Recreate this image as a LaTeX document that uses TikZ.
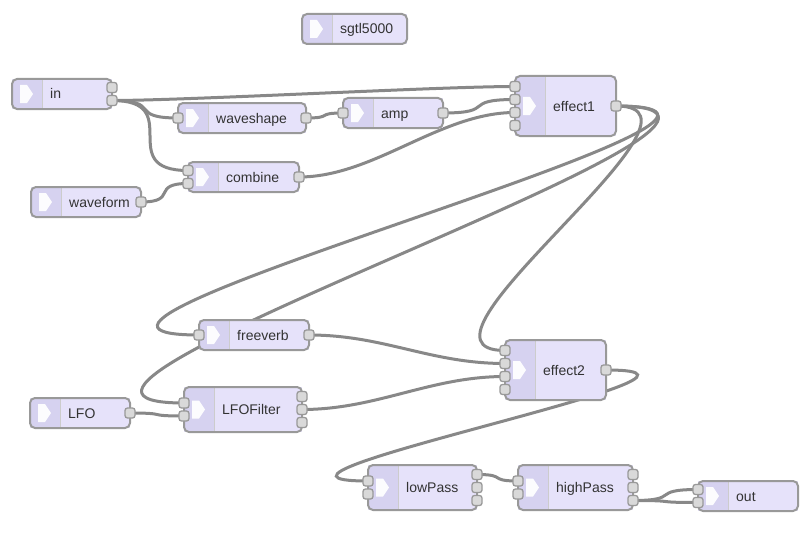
\documentclass[tikz,border=0pt]{standalone}
\usepackage{fontspec}
\setmainfont{Liberation Sans}
\usetikzlibrary{calc}
\definecolor{blockfill}{RGB}{230, 226, 250}
\definecolor{iconfill}{RGB}{214, 210, 240}
\definecolor{blockline}{RGB}{153, 153, 153}
\definecolor{portfill}{RGB}{217, 217, 217}
\definecolor{wiregray}{RGB}{136, 136, 136}
\definecolor{labelgray}{RGB}{51, 51, 51}
\pgfdeclarelayer{paper}
\pgfdeclarelayer{wires}
\pgfsetlayers{paper,wires,main}
\tikzset{
  block/.style={rectangle, fill=blockfill, inner sep=0pt, outer sep=0pt},
  blockedge/.style={draw=blockline, line width=2pt, rounded corners=5pt},
  port/.style={rectangle, rounded corners=2.5pt, fill=portfill, draw=blockline, line width=1.3pt, minimum size=10pt, inner sep=0pt},
  wire/.style={draw=wiregray, line width=3pt},
  blocklabel/.style={anchor=base west, text=labelgray, font=\fontsize{14}{16}\selectfont, inner sep=0pt}
}
% block: name, left, top, width, height, label, inputs, outputs
\newcommand{\audioblock}[8]{%
  \node[block, minimum width=#4pt, minimum height=#5pt] (#1) at ({#2+#4/2},{#3+#5/2}) {};
  \begin{scope}
    \clip[rounded corners=5pt] (#1.north west) rectangle (#1.south east);
    \fill[iconfill] (#1.north west) rectangle ++(30,#5);
  \end{scope}
  \draw[blockline!50, line width=1pt] ($(#1.north west)+(30,0)$) -- ++(0,#5);
  \draw[blockedge] (#1.north west) rectangle (#1.south east);
  \fill[white, opacity=0.95] ($(#1.west)+(8,-9)$) -- ++(7,0) -- ++(6,9) -- ++(-6,9) -- ++(-7,0) -- cycle;
  \node[blocklabel] (#1-label) at ($(#1.west)+(38,5)$) {#6};
  \ifnum#7>0\relax
    \foreach \k in {1,...,#7} {
      \node[port] (#1-i\k) at ($(#1.west)+(0,{-(#7-1)*6.5+13*(\k-1)})$) {};
    }
  \fi
  \ifnum#8>0\relax
    \foreach \k in {1,...,#8} {
      \node[port] (#1-o\k) at ($(#1.east)+(0,{-(#8-1)*6.5+13*(\k-1)})$) {};
    }
  \fi
}
% wire: source port, target port
\newcommand{\wire}[2]{%
  \draw[wire] let \p1=(#1.center), \p2=(#2.center),
    \n1={\x2-\x1}, \n2={\y2-\y1}, \n3={veclen(\n1,\n2)},
    \n4={(\n3<100 ? 0.75-0.0075*(100-\n3) : 0.75) + (\n1<0 ? 2*min(500,abs(\n1))/500 : 0)},
    \n5={((\n1<0) && (abs(\n2)<90)) ? ((\n2>0 ? 0.5 : -0.5)*(90-abs(\n2))/90*min(100,abs(\n1))/100) : 0}
  in (\p1) .. controls +({\n4*100pt},{\n5*30pt}) and +({0-\n4*100pt},{0-(\n5)*30pt}) .. (\p2);
}

\begin{document}
\begin{tikzpicture}[x=1pt, y=-1pt]
  \begin{pgfonlayer}{paper}
    \fill[white] (0,0) rectangle (809,535);
  \end{pgfonlayer}
  \useasboundingbox (0,0) rectangle (809,535);

  % Blocks
  \audioblock{sgtl5000}{302}{14}{105}{30}{sgtl5000}{0}{0}
  \audioblock{in}{12}{79}{100}{30}{in}{0}{2}
  \audioblock{waveshape}{178}{103}{128}{30}{waveshape}{1}{1}
  \audioblock{amp}{343}{98}{100}{30}{amp}{1}{1}
  \audioblock{effect1}{515}{76}{101}{60}{effect1}{4}{1}
  \audioblock{combine}{188}{162}{111}{30}{combine}{2}{1}
  \audioblock{waveform}{31}{187}{110}{30}{waveform}{0}{1}
  \audioblock{freeverb}{199}{320}{110}{30}{freeverb}{1}{1}
  \audioblock{LFO}{30}{398}{100}{30}{LFO}{0}{1}
  \audioblock{LFOFilter}{184}{387}{118}{45}{LFOFilter}{2}{3}
  \audioblock{effect2}{505}{340}{101}{60}{effect2}{4}{1}
  \audioblock{lowPass}{368}{465}{109}{45}{lowPass}{2}{3}
  \audioblock{highPass}{518}{465}{115}{45}{highPass}{2}{3}
  \audioblock{out}{698}{481}{100}{30}{out}{2}{0}

  % Wires (behind the blocks)
  \begin{pgfonlayer}{wires}
    \wire{in-o2}{effect1-i1}
    \wire{in-o2}{waveshape-i1}
    \wire{in-o2}{combine-i1}
    \wire{waveshape-o1}{amp-i1}
    \wire{amp-o1}{effect1-i2}
    \wire{combine-o1}{effect1-i3}
    \wire{waveform-o1}{combine-i2}
    \wire{effect1-o1}{freeverb-i1}
    \wire{effect1-o1}{LFOFilter-i1}
    \wire{effect1-o1}{effect2-i1}
    \wire{freeverb-o1}{effect2-i2}
    \wire{LFO-o1}{LFOFilter-i2}
    \wire{LFOFilter-o2}{effect2-i3}
    \wire{effect2-o1}{lowPass-i1}
    \wire{lowPass-o1}{highPass-i1}
    \wire{highPass-o3}{out-i1}
    \wire{highPass-o3}{out-i2}
  \end{pgfonlayer}
\end{tikzpicture}
\end{document}
